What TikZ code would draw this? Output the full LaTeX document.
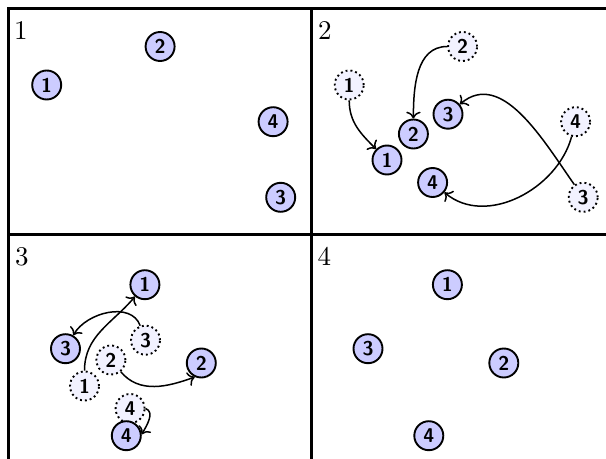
\documentclass[tikz,border=0pt]{standalone}
\usetikzlibrary{arrows.meta}
\font\cellfont=cmr10 at 27bp
\begin{document}
\begin{tikzpicture}[x=1bp,y=-1bp,
  disc/.style={circle, draw, line width=1.9bp, fill=blue!20, minimum size=29bp,
    inner sep=0pt, font=\sffamily\bfseries\fontsize{20}{20}\selectfont},
  ghost/.style={disc, fill=blue!5, dash pattern=on 1.9bp off 3bp},
  move/.style={-{To[scale=1.4]}, line width=1.5bp},
  frame/.style={line width=3bp},
  celllabel/.style={anchor=base west, inner sep=0pt, font=\cellfont}]
\useasboundingbox (0,0) rectangle (606,459);
\clip (0,0) rectangle (606,459);

% grid of four cells
\draw[frame] (8.5,8.5) rectangle (613.5,460.5);
\draw[frame] (311,8.5) -- (311,460.5);
\draw[frame] (8.5,234.5) -- (613.5,234.5);

% cell 1: starting layout
\begin{scope}[shift={(8.5,8.5)}]
  \node[celllabel] (l1) at (5.5,31) {1};
  \node[disc] (a1) at (38.2,76.5) {1};
  \node[disc] (a2) at (151.6,38) {2};
  \node[disc] (a3) at (272.2,188.8) {3};
  \node[disc] (a4) at (264.6,113.2) {4};
\end{scope}

% cell 2: first move
\begin{scope}[shift={(311,8.5)}]
  \node[celllabel] (l2) at (7,31) {2};
  \node[ghost] (p1) at (38.2,76.5) {1};
  \node[ghost] (p2) at (151.6,38) {2};
  \node[ghost] (p3) at (272.2,188.8) {3};
  \node[ghost] (p4) at (264.6,113.2) {4};
  \node[disc] (b1) at (76,151.5) {1};
  \node[disc] (b2) at (102.4,125.5) {2};
  \node[disc] (b3) at (137,105.7) {3};
  \node[disc] (b4) at (121.6,174) {4};
  \draw[move] (p1) to[out=-90, in=135] (b1);
  \draw[move] (p2) to[out=180, in=90] (b2);
  \draw[move] (p3) to[out=125, in=40] (b3);
  \draw[move] (p4) to[out=-105, in=-40] (b4);
\end{scope}

% cell 3: second move
\begin{scope}[shift={(8.5,234.5)}]
  \node[celllabel] (l3) at (6.5,31) {3};
  \node[ghost] (q1) at (76,151.5) {1};
  \node[ghost] (q2) at (102.4,125.5) {2};
  \node[ghost] (q3) at (137,105.7) {3};
  \node[ghost] (q4) at (121.6,174) {4};
  \node[disc] (c1) at (136.4,50.2) {1};
  \node[disc] (c2) at (192.8,128.5) {2};
  \node[disc] (c3) at (57,114.2) {3};
  \node[disc] (c4) at (117.8,201.2) {4};
  \draw[move] (q1) to[out=90, in=-130] (c1);
  \draw[move] (q3) to[out=110, in=60] (c3);
  \draw[move] (q2) to[out=-50, in=-160] (c2.-115);
  \draw[move] (q4.east) to[out=-20, in=60] (c4.5);
\end{scope}

% cell 4: final layout
\begin{scope}[shift={(311,234.5)}]
  \node[celllabel] (l4) at (6.5,31) {4};
  \node[disc] (d1) at (136.4,50.2) {1};
  \node[disc] (d2) at (192.8,128.5) {2};
  \node[disc] (d3) at (57,114.2) {3};
  \node[disc] (d4) at (117.8,201.2) {4};
\end{scope}
\end{tikzpicture}
\end{document}
